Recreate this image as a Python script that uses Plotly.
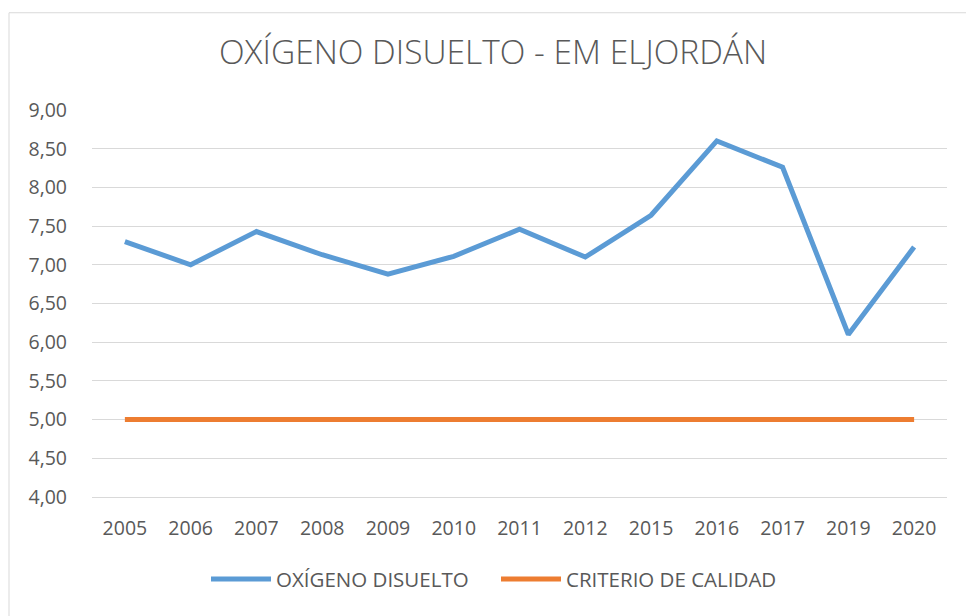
import plotly.graph_objects as go

years = ["2005", "2006", "2007", "2008", "2009", "2010", "2011", "2012",
         "2015", "2016", "2017", "2019", "2020"]
oxigeno = [7.30, 7.00, 7.43, 7.13, 6.88, 7.11, 7.46, 7.10, 7.64, 8.60, 8.26, 6.10, 7.23]
criterio = [5.00] * len(years)

W, H = 966, 616
L, R, T, B = 92, 19, 109.5, 118.5
pw, ph = W - L - R, H - T - B

def px_to_paper(x, y):
    return (x - L) / pw, (H - B - y) / ph

fig = go.Figure()
fig.add_trace(go.Scatter(x=years, y=oxigeno, mode="lines", name="OXÍGENO DISUELTO",
                         line=dict(color="#5B9BD5", width=5)))
fig.add_trace(go.Scatter(x=years, y=criterio, mode="lines", name="CRITERIO DE CALIDAD",
                         line=dict(color="#ED7D31", width=5)))

x0, y0 = px_to_paper(9, 12)
x1, y1 = px_to_paper(975, 630)
fig.add_shape(type="rect", xref="paper", yref="paper", x0=x0, y0=y1, x1=x1, y1=y0,
              line=dict(color="#D9D9D9", width=1), fillcolor="rgba(0,0,0,0)", layer="below")

lx, ly = px_to_paper(496, 580)
fig.update_layout(
    width=W, height=H,
    margin=dict(l=L, r=R, t=T, b=B),
    paper_bgcolor="white", plot_bgcolor="white",
    separators=",.",
    font=dict(family="Open Sans, sans-serif", color="#595959", size=19.5),
    title=dict(text="OXÍGENO DISUELTO - EM ELJORDÁN", x=493 / W, xanchor="center",
               y=1 - 52 / H, yanchor="middle",
               font=dict(family="Open Sans, sans-serif", size=33.5, color="#595959", weight=300)),
    showlegend=True,
    legend=dict(orientation="h", x=lx, y=ly, xanchor="center", yanchor="middle",
                font=dict(size=20.5, color="#595959"), itemwidth=60,
                entrywidth=215, traceorder="normal"),
    xaxis=dict(type="category", range=[-0.5, len(years) - 0.5], showgrid=False,
               showline=True, linecolor="#D9D9D9",
               linewidth=1, ticks="", ticklabelstandoff=14,
               tickfont=dict(size=19.5, color="#595959")),
    yaxis=dict(range=[4, 9], dtick=0.5, tickformat=".2f", showgrid=True,
               gridcolor="#D9D9D9", gridwidth=1, zeroline=False, showline=False,
               ticks="", ticklabelstandoff=24,
               tickfont=dict(size=19.5, color="#595959")),
)

fig.write_html("out.html", config={"displayModeBar": False},
               post_script="document.body.style.margin='0';document.body.style.overflow='hidden';")
